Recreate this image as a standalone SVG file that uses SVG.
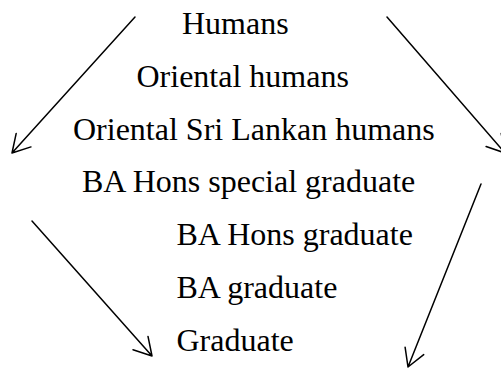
<svg xmlns="http://www.w3.org/2000/svg" width="501" height="368" viewBox="0 0 501 368">
<style>
.lbl{font-family:"Liberation Serif","Times New Roman",serif;font-size:32px;fill:#000}
.arr{fill:none;stroke:#000;stroke-width:1.5;stroke-linecap:round;stroke-linejoin:round}
</style>
<rect width="501" height="368" fill="#fff"/>
<g id="n-humans"><text class="lbl" x="182" y="34">Humans</text></g>
<g id="n-oriental"><text class="lbl" x="136.5" y="87">Oriental humans</text></g>
<g id="n-srilankan"><text class="lbl" x="73" y="139.5">Oriental Sri Lankan humans</text></g>
<g id="n-special"><text class="lbl" x="82" y="192">BA Hons special graduate</text></g>
<g id="n-hons"><text class="lbl" x="176.5" y="245">BA Hons graduate</text></g>
<g id="n-ba"><text class="lbl" x="176.5" y="297.5">BA graduate</text></g>
<g id="n-graduate"><text class="lbl" x="176.5" y="350.5">Graduate</text></g>
<g id="connectors">
<path class="arr" d="M135,17 L12,153 M31,146.9 L12,153 L16.2,133.4"/>
<path class="arr" d="M387,17 L505,153 M486.1,146.5 L505,153 L501.2,133.4"/>
<path class="arr" d="M32,221 L152,356 M148,336.4 L152,356 L133,349.7"/>
<path class="arr" d="M481,184 L408,367 M423.7,354.6 L408,367 L405.1,347.2"/>
</g>
</svg>
